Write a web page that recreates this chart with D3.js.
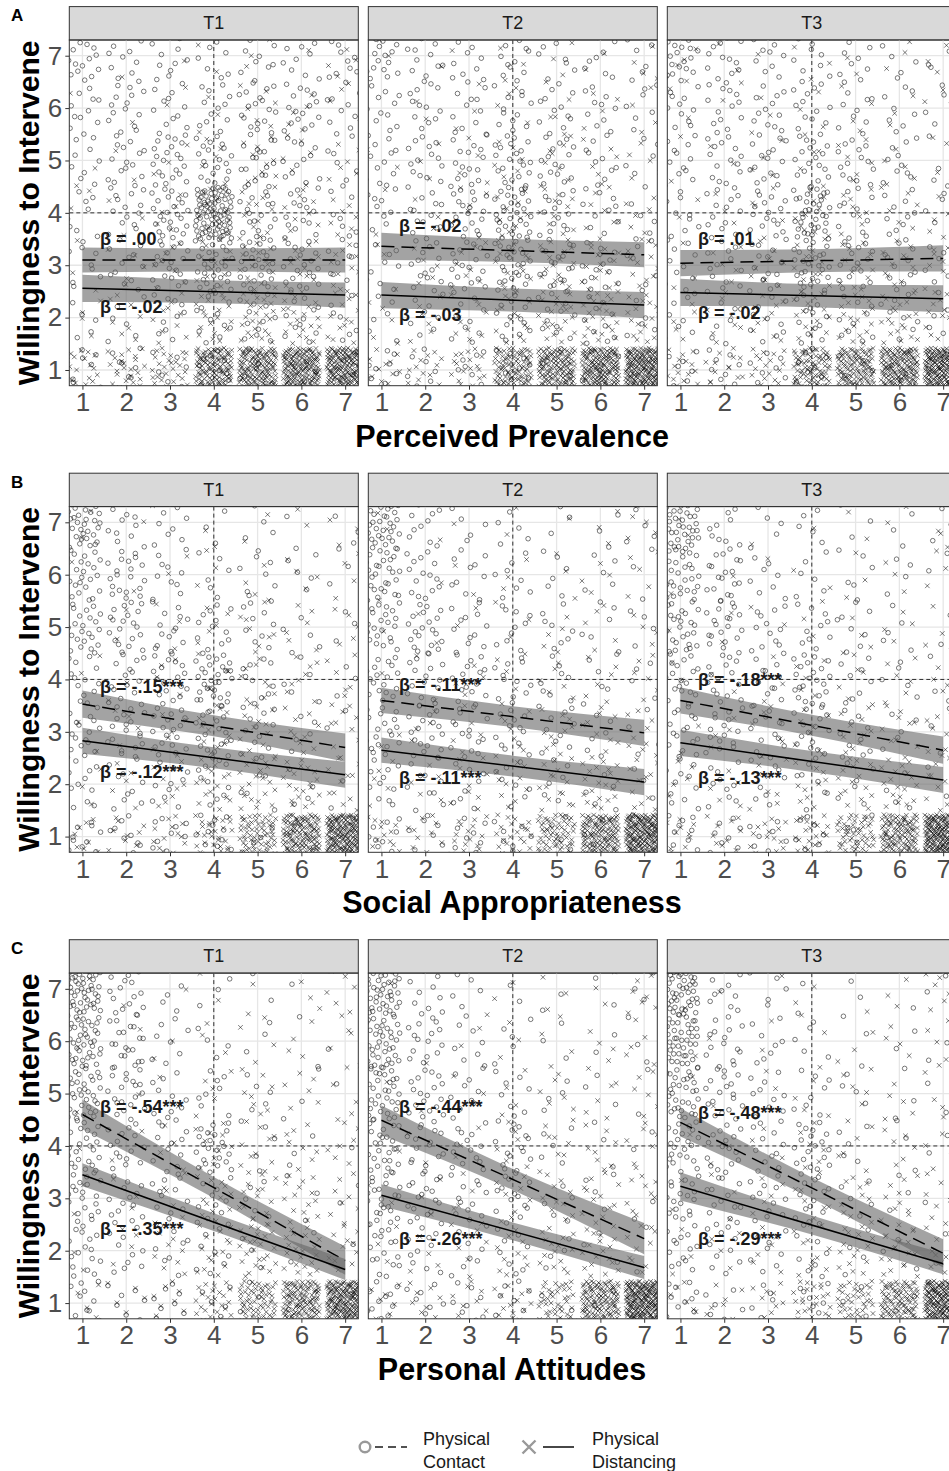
<!DOCTYPE html>
<html>
<head>
<meta charset="utf-8">
<script src="https://cdn.jsdelivr.net/npm/d3@7"></script>
<style>
  body { margin: 0; background: #fff; overflow: hidden; }
  svg { display: block; font-family: "Liberation Sans", Arial, Helvetica, sans-serif; }
</style>
</head>
<body>
<svg id="fig" width="949" height="1471"></svg>
<script>
// ---------------------------------------------------------------------------
// Facet labels, axis titles and ticks
// ---------------------------------------------------------------------------
const timepoints = ["T1", "T2", "T3"];
const predictors = ["Perceived Prevalence", "Social Appropriateness", "Personal Attitudes"];
const rowLetters = ["A", "B", "C"];
const xTicks = [1, 2, 3, 4, 5, 6, 7];
const yTicks = [1, 2, 3, 4, 5, 6, 7];
const groups = ["Physical Contact", "Physical Distancing"];

// ---------------------------------------------------------------------------
// Response counts per cell: one row per willingness value (7 at top down to 1),
// one column per predictor value (1..7).
// ---------------------------------------------------------------------------
const prevContactT1 = [
  [15, 12, 10,  8, 10, 10, 10],
  [12, 14, 12, 12, 18, 16, 10],
  [10, 15, 22, 20, 18, 12,  8],
  [ 8, 14, 25, 80, 18, 15,  8],
  [10, 12, 20, 30, 25, 20, 10],
  [ 5,  6, 10, 12, 12, 12,  8],
  [ 8,  8,  8, 10,  8,  6,  5]
];
const prevDistT1 = [
  [ 1,  1,  1,  2,  3,  2,  5],
  [ 1,  1,  2,  3,  6,  5,  4],
  [ 2,  2,  3,  5, 10,  6,  6],
  [ 2,  3,  5,  8, 12,  8,  8],
  [ 3,  5,  8, 12, 15, 12, 12],
  [ 5,  8, 10, 18, 25, 20, 15],
  [20, 25, 30,130,150,170,190]
];
const prevContactT2 = [
  [18, 12, 10, 12,  8,  8,  8],
  [12, 12, 12, 12, 12, 10,  8],
  [12, 14, 16, 20, 16, 10,  6],
  [10, 14, 18, 30, 14, 10,  6],
  [10, 14, 18, 25, 18, 14,  8],
  [ 6,  8, 10, 14, 12, 10,  6],
  [10,  8,  8, 10,  6,  5,  4]
];
const prevDistT2 = [
  [ 2,  1,  2,  3,  3,  3,  5],
  [ 1,  2,  3,  4,  5,  4,  4],
  [ 2,  3,  4,  6,  8,  6,  5],
  [ 2,  3,  6, 10, 10,  8,  6],
  [ 4,  5,  8, 14, 15, 15, 12],
  [ 6,  6, 10, 15, 20, 25, 18],
  [15, 15, 20,100,140,170,210]
];
const prevContactT3 = [
  [20, 12, 10, 10,  8,  6,  6],
  [12, 14, 12, 12, 10,  8,  6],
  [12, 14, 16, 18, 14, 10,  6],
  [10, 14, 16, 35, 12, 10,  6],
  [10, 12, 16, 25, 16, 12,  8],
  [ 8,  8, 10, 14, 10,  8,  6],
  [10,  8,  8, 10,  6,  5,  4]
];
const prevDistT3 = [
  [ 5,  2,  2,  3,  2,  3,  6],
  [ 2,  2,  3,  3,  4,  3,  4],
  [ 2,  2,  4,  5,  6,  5,  5],
  [ 3,  3,  5, 10,  8,  6,  6],
  [ 4,  5,  8, 12, 12, 12, 10],
  [ 6,  8, 10, 15, 18, 20, 16],
  [20, 15, 20, 90,120,160,220]
];
const approContactT1 = [
  [35, 12,  8,  4,  4,  3,  3],
  [25, 20, 10,  6,  8,  5,  3],
  [25, 20, 14, 12, 10,  5,  3],
  [15, 15, 18, 30, 10,  5,  3],
  [18, 18, 18, 20, 12,  5,  3],
  [12, 10, 10, 10,  6,  4,  3],
  [12, 10, 10, 12,  5,  3,  2]
];
const approDistT1 = [
  [ 2,  1,  1,  2,  2,  2,  5],
  [ 1,  1,  2,  3,  4,  4,  5],
  [ 1,  2,  3,  5,  8,  6,  5],
  [ 2,  2,  4,  6, 10,  8,  8],
  [ 3,  4,  6, 10, 12, 10, 10],
  [ 4,  5,  8, 15, 20, 20, 12],
  [10, 10, 15, 30, 70,140,200]
];
const approContactT2 = [
  [35, 10,  6,  5,  4,  3,  4],
  [28, 15, 10,  8,  6,  5,  4],
  [25, 20, 12, 10,  8,  6,  4],
  [20, 16, 15, 12,  8,  6,  4],
  [20, 18, 15, 12, 10,  6,  4],
  [12, 10,  8,  8,  6,  5,  3],
  [12,  8,  8,  8,  5,  3,  2]
];
const approDistT2 = [
  [ 2,  1,  1,  2,  2,  3,  6],
  [ 1,  1,  2,  3,  3,  4,  5],
  [ 1,  2,  2,  3,  5,  5,  5],
  [ 2,  2,  4,  5,  6,  6,  6],
  [ 3,  4,  6,  8, 10, 10, 10],
  [ 5,  5,  8, 10, 15, 20, 12],
  [15, 12, 15, 25, 70,140,220]
];
const approContactT3 = [
  [40, 10,  6,  5,  3,  3,  3],
  [30, 18,  8,  6,  6,  4,  3],
  [28, 20, 12, 10,  8,  5,  3],
  [20, 15, 12, 22,  8,  5,  4],
  [18, 15, 14, 15, 10,  5,  4],
  [12, 10,  8,  8,  6,  4,  3],
  [12,  8,  8,  8,  5,  3,  2]
];
const approDistT3 = [
  [ 2,  1,  1,  1,  2,  2,  6],
  [ 1,  1,  1,  2,  3,  3,  5],
  [ 1,  2,  2,  3,  4,  4,  5],
  [ 2,  2,  3,  5,  6,  6,  6],
  [ 3,  4,  6,  8, 10, 10, 10],
  [ 5,  5,  8, 10, 15, 18, 12],
  [12, 12, 15, 25, 60,120,240]
];
const attContactT1 = [
  [50, 15,  5,  3,  2,  1,  1],
  [45, 20,  8,  4,  3,  2,  1],
  [35, 20, 10,  8,  5,  3,  1],
  [25, 15, 12, 22,  5,  3,  1],
  [22, 14, 12, 12,  5,  3,  2],
  [18, 10,  8,  8,  3,  2,  1],
  [12,  8,  8,  6,  3,  2,  1]
];
const attDistT1 = [
  [ 1,  1,  1,  2,  3,  3,  6],
  [ 1,  1,  2,  3,  4,  4,  5],
  [ 1,  1,  2,  5,  8,  6,  5],
  [ 1,  2,  4, 10, 10,  8,  8],
  [ 2,  3,  6, 12, 15, 15, 10],
  [ 3,  4,  8, 15, 25, 20, 12],
  [ 5,  5, 10, 25, 70,130,200]
];
const attContactT2 = [
  [45, 10,  5,  3,  2,  2,  3],
  [40, 15,  8,  5,  3,  2,  3],
  [35, 18, 10,  8,  4,  3,  2],
  [28, 16, 14, 15,  5,  3,  2],
  [25, 18, 12, 14,  5,  4,  2],
  [18, 10,  8,  8,  4,  3,  2],
  [12,  8,  8,  8,  3,  2,  1]
];
const attDistT2 = [
  [ 1,  1,  1,  2,  3,  3,  8],
  [ 1,  1,  2,  3,  4,  4,  6],
  [ 1,  1,  2,  4,  6,  6,  6],
  [ 1,  2,  3,  6,  8,  8,  8],
  [ 2,  3,  5,  8, 10, 12, 10],
  [ 3,  4,  6, 10, 15, 18, 12],
  [ 8,  8, 10, 15, 45,130,240]
];
const attContactT3 = [
  [50, 10,  5,  3,  2,  1,  2],
  [45, 15,  8,  5,  3,  2,  2],
  [35, 18, 10,  8,  4,  3,  2],
  [25, 15, 12, 18,  5,  3,  2],
  [20, 15, 12, 14,  5,  3,  2],
  [15, 10,  8,  8,  4,  3,  2],
  [12,  6,  6,  8,  3,  2,  1]
];
const attDistT3 = [
  [ 1,  1,  1,  2,  2,  3,  8],
  [ 1,  1,  2,  3,  3,  4,  6],
  [ 1,  1,  2,  4,  5,  5,  6],
  [ 1,  2,  3,  6,  6,  6,  6],
  [ 2,  3,  5,  8, 10, 10, 10],
  [ 3,  4,  6, 10, 15, 18, 12],
  [ 8,  8, 10, 25, 45,100,230]
];

// ---------------------------------------------------------------------------
// Fitted regression lines: predicted willingness at predictor = 1 and 7
// (rows: prevalence, appropriateness, attitudes; columns: T1, T2, T3)
// ---------------------------------------------------------------------------
const contactFit = [
  [[3.10, 3.10], [3.36, 3.20], [3.04, 3.13]],
  [[3.53, 2.70], [3.60, 2.98], [3.60, 2.65]],
  [[4.60, 1.81], [4.49, 2.23], [4.45, 1.95]]
];
const distancingFit = [
  [[2.56, 2.43], [2.43, 2.24], [2.48, 2.36]],
  [[2.83, 2.18], [2.65, 2.04], [2.79, 2.08]],
  [[3.45, 1.64], [3.06, 1.68], [3.23, 1.75]]
];
// Confidence band half-widths at predictor = 1, 4, 7
const contactBand = [
  [[0.24, 0.22, 0.24], [0.26, 0.22, 0.24], [0.25, 0.22, 0.25]],
  [[0.26, 0.20, 0.27], [0.24, 0.20, 0.25], [0.25, 0.20, 0.26]],
  [[0.28, 0.20, 0.27], [0.28, 0.20, 0.30], [0.27, 0.20, 0.27]]
];
const distancingBand = [
  [[0.26, 0.22, 0.24], [0.25, 0.22, 0.25], [0.26, 0.22, 0.26]],
  [[0.25, 0.20, 0.25], [0.24, 0.20, 0.25], [0.25, 0.20, 0.25]],
  [[0.22, 0.17, 0.20], [0.21, 0.17, 0.22], [0.27, 0.18, 0.20]]
];
// Standardised coefficients
const contactBeta = [
  [".00", "-.02", ".01"],
  ["-.15***", "-.11***", "-.18***"],
  ["-.54***", "-.44***", "-.48***"]
];
const distancingBeta = [
  ["-.02", "-.03", "-.02"],
  ["-.12***", "-.11***", "-.13***"],
  ["-.35***", "-.26***", "-.29***"]
];
// Coefficient label anchors (willingness units)
const contactLabelY = [[3.50, 3.74, 3.50], [3.86, 3.90, 3.99], [4.74, 4.74, 4.63]];
const distancingLabelY = [[2.21, 2.05, 2.08], [2.24, 2.11, 2.11], [2.42, 2.23, 2.23]];

const contactCounts = [
  [prevContactT1, prevContactT2, prevContactT3],
  [approContactT1, approContactT2, approContactT3],
  [attContactT1, attContactT2, attContactT3]
];
const distancingCounts = [
  [prevDistT1, prevDistT2, prevDistT3],
  [approDistT1, approDistT2, approDistT3],
  [attDistT1, attDistT2, attDistT3]
];

// ---------------------------------------------------------------------------
// Layout
// ---------------------------------------------------------------------------
const svg = d3.select("#fig");
svg.append("rect").attr("width", 949).attr("height", 1471).attr("fill", "#fff");

const panelLeft = [69.3, 368.3, 667.3];
const panelW = 289;
const panelTop = [40, 506.6, 973.1];
const panelH = 345.7;
const stripH = 33.4;

const x = d3.scaleLinear().domain([0.7, 7.3]).range([0, panelW]);
const y = d3.scaleLinear().domain([0.7, 7.3]).range([panelH, 0]);

const markStroke = "#000";
const markOpacity = 0.55;
const markWidth = 0.95;

// Deterministic low-discrepancy spread used for jittering points inside a cell
function halton(i, b) {
  let f = 1, r = 0;
  while (i > 0) { f /= b; r += f * (i % b); i = Math.floor(i / b); }
  return r;
}

function jitterCells(matrix, startIndex) {
  const pts = [];
  let k = startIndex;
  matrix.forEach((row, ri) => {
    const yv = 7 - ri;
    row.forEach((n, ci) => {
      const xv = ci + 1;
      for (let j = 0; j < n; j++) {
        const u = halton(k, 2), v = halton(k, 3);
        k++;
        const px = xv - 0.42 + 0.84 * u;
        let py;
        if (yv === 1) py = 0.58 + 0.84 * v;
        else if (yv === 7) py = 6.5 + 0.92 * v;
        else py = yv - 0.5 + v;
        pts.push([px, py]);
      }
    });
  });
  return pts;
}

const defs = svg.append("defs");

predictors.forEach((pred, r) => {
  timepoints.forEach((tp, c) => {
    const g = svg.append("g")
      .attr("transform", `translate(${panelLeft[c]},${panelTop[r]})`);
    const clipId = `clip-${r}-${c}`;
    defs.append("clipPath").attr("id", clipId)
      .append("rect").attr("width", panelW).attr("height", panelH);

    // strip
    g.append("rect")
      .attr("x", 0).attr("y", -stripH).attr("width", panelW).attr("height", stripH)
      .attr("fill", "#d9d9d9").attr("stroke", "#333").attr("stroke-width", 1);
    g.append("text")
      .attr("x", panelW / 2).attr("y", -stripH / 2)
      .attr("text-anchor", "middle").attr("dominant-baseline", "central")
      .attr("font-size", 18).attr("fill", "#1a1a1a").text(tp);

    // grid
    const grid = g.append("g");
    grid.selectAll("line.gx").data(xTicks).join("line")
      .attr("x1", d => x(d)).attr("x2", d => x(d))
      .attr("y1", 0).attr("y2", panelH)
      .attr("stroke", "#e6e6e6").attr("stroke-width", 1.3);
    grid.selectAll("line.gy").data(yTicks).join("line")
      .attr("y1", d => y(d)).attr("y2", d => y(d))
      .attr("x1", 0).attr("x2", panelW)
      .attr("stroke", "#e6e6e6").attr("stroke-width", 1.3);

    const plot = g.append("g").attr("clip-path", `url(#${clipId})`);

    // points
    const base = (r * 3 + c) * 5000 + 1;
    const contactPts = jitterCells(contactCounts[r][c], base);
    const distPts = jitterCells(distancingCounts[r][c], base + 2500);

    const s = 2.3;
    plot.append("g").selectAll("path").data(distPts).join("path")
      .attr("d", d => {
        const cx = x(d[0]), cy = y(d[1]);
        return `M${cx - s},${cy - s}L${cx + s},${cy + s}M${cx - s},${cy + s}L${cx + s},${cy - s}`;
      })
      .attr("fill", "none").attr("stroke", markStroke).attr("stroke-opacity", markOpacity)
      .attr("stroke-width", markWidth);
    plot.append("g").selectAll("circle").data(contactPts).join("circle")
      .attr("cx", d => x(d[0])).attr("cy", d => y(d[1])).attr("r", 2.3)
      .attr("fill", "none").attr("stroke", markStroke).attr("stroke-opacity", markOpacity)
      .attr("stroke-width", markWidth);

    // reference lines at the scale midpoint
    plot.append("line")
      .attr("x1", x(4)).attr("x2", x(4)).attr("y1", 0).attr("y2", panelH)
      .attr("stroke", "#1a1a1a").attr("stroke-width", 0.9).attr("stroke-dasharray", "4,3");
    plot.append("line")
      .attr("y1", y(4)).attr("y2", y(4)).attr("x1", 0).attr("x2", panelW)
      .attr("stroke", "#1a1a1a").attr("stroke-width", 0.9).attr("stroke-dasharray", "4,3");

    // regression bands and lines
    const fits = [
      { fit: contactFit[r][c], band: contactBand[r][c], dash: "13,7" },
      { fit: distancingFit[r][c], band: distancingBand[r][c], dash: null }
    ];
    fits.forEach(f => {
      const lineAt = xv => f.fit[0] + (f.fit[1] - f.fit[0]) * (xv - 1) / 6;
      const bandPts = [1, 4, 7].map((xv, i) => ({ x: xv, lo: lineAt(xv) - f.band[i], hi: lineAt(xv) + f.band[i] }));
      plot.append("path").datum(bandPts)
        .attr("d", d3.area().curve(d3.curveNatural)
          .x(d => x(d.x)).y0(d => y(d.lo)).y1(d => y(d.hi)))
        .attr("fill", "#666").attr("fill-opacity", 0.6);
      const ln = plot.append("line")
        .attr("x1", x(1)).attr("y1", y(f.fit[0]))
        .attr("x2", x(7)).attr("y2", y(f.fit[1]))
        .attr("stroke", "#000").attr("stroke-width", 1.5);
      if (f.dash) ln.attr("stroke-dasharray", f.dash);
    });

    // coefficient labels
    [[contactBeta[r][c], contactLabelY[r][c]], [distancingBeta[r][c], distancingLabelY[r][c]]]
      .forEach(([b, ly]) => {
        g.append("text")
          .attr("x", x(1.4)).attr("y", y(ly))
          .attr("dominant-baseline", "central")
          .attr("font-size", 18).attr("font-weight", "bold").attr("fill", "#1a1a1a")
          .text(`β = ${b}`);
      });

    // panel border
    g.append("rect").attr("width", panelW).attr("height", panelH)
      .attr("fill", "none").attr("stroke", "#333").attr("stroke-width", 1);

    // x axis
    const xa = g.append("g").attr("transform", `translate(0,${panelH})`)
      .call(d3.axisBottom(x).tickValues(xTicks).tickSize(4).tickPadding(3).tickFormat(d3.format("d")));
    xa.select(".domain").remove();
    xa.selectAll("line").attr("stroke", "#333");
    xa.selectAll("text").attr("font-size", 26).attr("fill", "#4d4d4d")
      .attr("font-family", "Liberation Sans, Arial, sans-serif");

    // y axis (first column only)
    if (c === 0) {
      const ya = g.append("g")
        .call(d3.axisLeft(y).tickValues(yTicks).tickSize(4).tickPadding(3).tickFormat(d3.format("d")));
      ya.select(".domain").remove();
      ya.selectAll("line").attr("stroke", "#333");
      ya.selectAll("text").attr("font-size", 26).attr("fill", "#4d4d4d")
        .attr("font-family", "Liberation Sans, Arial, sans-serif");
    }
  });

  // axis titles and row letter
  svg.append("text")
    .attr("x", 512).attr("y", panelTop[r] + panelH + 61)
    .attr("text-anchor", "middle").attr("font-size", 30.5).attr("font-weight", "bold")
    .attr("fill", "#000").text(pred);
  svg.append("text")
    .attr("transform", `translate(39,${panelTop[r] + panelH / 2}) rotate(-90)`)
    .attr("text-anchor", "middle").attr("font-size", 30).attr("font-weight", "bold")
    .attr("fill", "#000").text("Willingness to Intervene");
  svg.append("text")
    .attr("x", 11).attr("y", panelTop[r] - 19)
    .attr("font-size", 17).attr("font-weight", "bold").attr("fill", "#000")
    .text(rowLetters[r]);
});

// ---------------------------------------------------------------------------
// Legend
// ---------------------------------------------------------------------------
const lg = svg.append("g");
const legendY = 1447;
// Physical Contact
lg.append("circle").attr("cx", 365).attr("cy", legendY).attr("r", 5.3)
  .attr("fill", "none").attr("stroke", "#999").attr("stroke-width", 2.4);
lg.append("line").attr("x1", 375).attr("x2", 407).attr("y1", legendY).attr("y2", legendY)
  .attr("stroke", "#1a1a1a").attr("stroke-width", 1.6).attr("stroke-dasharray", "8,5");
lg.append("text").attr("x", 423).attr("y", 1445).attr("font-size", 18).attr("fill", "#1a1a1a").text("Physical");
lg.append("text").attr("x", 423).attr("y", 1468).attr("font-size", 18).attr("fill", "#1a1a1a").text("Contact");
// Physical Distancing
const xs = 6.5;
lg.append("path")
  .attr("d", `M${529 - xs},${legendY - xs}L${529 + xs},${legendY + xs}M${529 - xs},${legendY + xs}L${529 + xs},${legendY - xs}`)
  .attr("stroke", "#999").attr("stroke-width", 2.4).attr("fill", "none");
lg.append("line").attr("x1", 543).attr("x2", 574).attr("y1", legendY).attr("y2", legendY)
  .attr("stroke", "#1a1a1a").attr("stroke-width", 1.6);
lg.append("text").attr("x", 592).attr("y", 1445).attr("font-size", 18).attr("fill", "#1a1a1a").text("Physical");
lg.append("text").attr("x", 592).attr("y", 1468).attr("font-size", 18).attr("fill", "#1a1a1a").text("Distancing");
</script>
</body>
</html>
